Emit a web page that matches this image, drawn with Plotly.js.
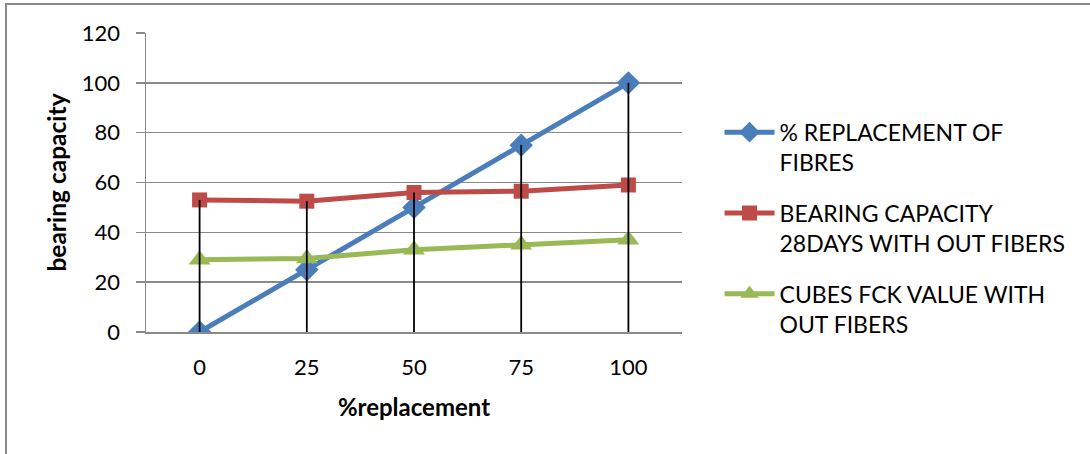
<!DOCTYPE html>
<html>
<head>
<meta charset="utf-8">
<script src="https://cdn.plot.ly/plotly-3.0.1.min.js"></script>
<style>
  html, body { margin: 0; padding: 0; background: #fff; }
  #wrap { position: relative; width: 1090px; height: 454px; overflow: hidden; }
  #frame { position: absolute; left: 5px; top: 3px; width: 1200px; height: 600px;
           border-top: 2px solid #8a8a8a; border-left: 2px solid #8a8a8a; pointer-events: none; }
  #chart { position: absolute; left: 0; top: 0; width: 1090px; height: 454px; }
</style>
</head>
<body>
<div id="wrap">
  <div id="chart"></div>
  <div id="frame"></div>
</div>
<script>
// % replacement categories on the x axis
const categories = ['0', '25', '50', '75', '100'];

// series values
const replacementOfFibres = [0, 25, 50, 75, 100];
const bearingCapacity28Days = [53, 52.5, 56, 56.5, 59];
const cubesFckValue = [29, 29.5, 33, 35, 37];

const seriesNames = [
  '% REPLACEMENT OF<br>FIBRES',
  'BEARING CAPACITY<br>28DAYS WITH OUT FIBERS',
  'CUBES FCK VALUE WITH<br>OUT FIBERS'
];

const FONT = 'Lato, "Open Sans", sans-serif';
const GRID = '#8a8a8a';

const allSeries = [replacementOfFibres, bearingCapacity28Days, cubesFckValue];

// drop lines: from the highest point of each category down to the axis
const dropX = [], dropY = [];
categories.forEach((c, i) => {
  const top = Math.max(...allSeries.map(s => s[i]));
  dropX.push(c, c, null);
  dropY.push(top, 0, null);
});

const traces = [
  {
    x: categories, y: replacementOfFibres, name: seriesNames[0],
    type: 'scatter', mode: 'lines+markers',
    line: { color: '#4a7ebb', width: 5 },
    marker: { symbol: 'diamond', size: 18, color: '#4a7ebb' },
    legendgroup: 'a'
  },
  {
    x: categories, y: bearingCapacity28Days, name: seriesNames[1],
    type: 'scatter', mode: 'lines+markers',
    line: { color: '#be4b48', width: 5 },
    marker: { symbol: 'square', size: 15, color: '#be4b48' },
    legendgroup: 'b'
  },
  {
    x: categories, y: cubesFckValue, name: seriesNames[2],
    type: 'scatter', mode: 'lines+markers',
    line: { color: '#98b954', width: 5 },
    marker: { symbol: 'triangle-up', size: 19, color: '#98b954' },
    legendgroup: 'c'
  },
  {
    x: dropX, y: dropY, type: 'scatter', mode: 'lines',
    line: { color: '#000', width: 1.8 },
    connectgaps: false, showlegend: false, hoverinfo: 'skip'
  }
];

const layout = {
  width: 1090, height: 454,
  margin: { l: 146, r: 408, t: 33, b: 122 },
  paper_bgcolor: '#fff', plot_bgcolor: '#fff',
  font: { family: FONT, size: 23, color: '#000' },
  showlegend: true,
  xaxis: {
    type: 'category', range: [-0.5, 4.5],
    showgrid: false, zeroline: false,
    showline: true, linecolor: GRID, linewidth: 1.5,
    ticks: '', ticklabelstandoff: 15,
    tickfont: { family: FONT, size: 22, color: '#000' },
    title: { text: '<b>%replacement</b>', font: { family: FONT, size: 24, color: '#000' }, standoff: 20 }
  },
  yaxis: {
    range: [0, 120], dtick: 20,
    showgrid: true, gridcolor: GRID, gridwidth: 1.5,
    zeroline: false,
    showline: true, linecolor: GRID, linewidth: 1.5,
    ticks: 'outside', ticklen: 9, tickcolor: GRID, tickwidth: 1.5,
    ticklabelstandoff: 11,
    tickfont: { family: FONT, size: 22, color: '#000' },
    title: { text: '<b>bearing capacity</b>', font: { family: FONT, size: 24.5, color: '#000' }, standoff: 8 }
  },
  legend: {
    x: 1.07, y: 0.74, xanchor: 'left', yanchor: 'top',
    valign: 'top', tracegroupgap: 18, itemwidth: 50,
    font: { family: FONT, size: 23, color: '#000' },
    bgcolor: 'rgba(0,0,0,0)'
  }
};

Plotly.newPlot('chart', traces, layout, { displayModeBar: false, staticPlot: true });
</script>
</body>
</html>
